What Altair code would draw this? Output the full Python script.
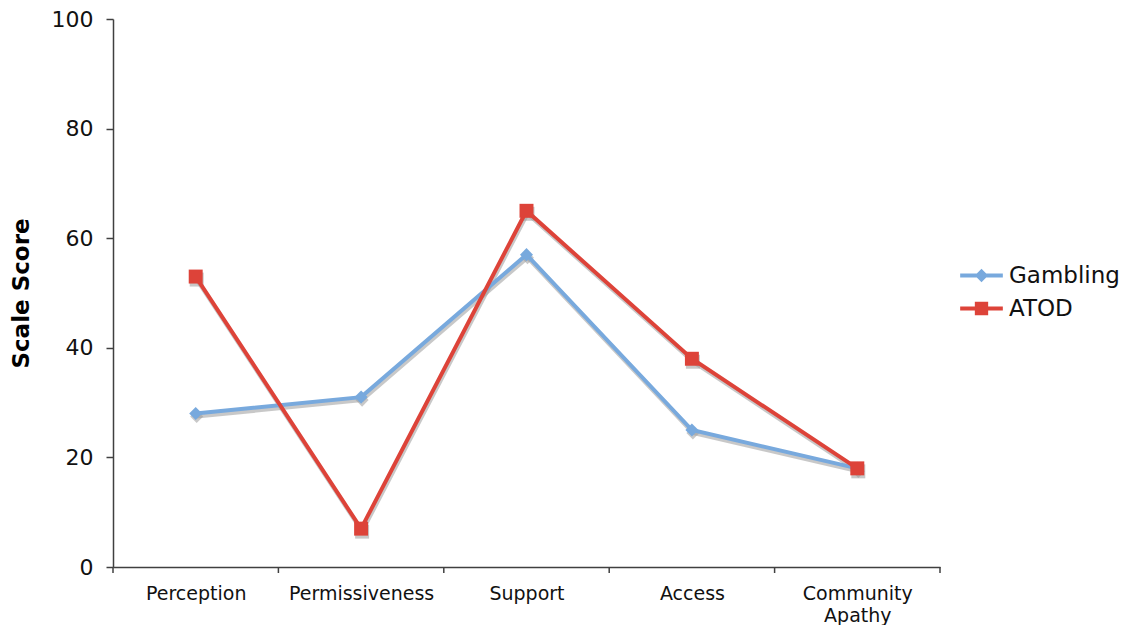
import altair as alt
import pandas as pd

categories = ["Perception", "Permissiveness", "Support", "Access", "Community Apathy"]
gambling = [28, 31, 57, 25, 18]
atod = [53, 7, 65, 38, 18]
series_names = ["Gambling", "ATOD"]
colors = ["#78A9DD", "#DD4339"]
y_ticks = [0, 20, 40, 60, 80, 100]

rows = []
for i, c in enumerate(categories):
    rows.append({"idx": i, "category": c, "series": "Gambling", "value": gambling[i]})
    rows.append({"idx": i, "category": c, "series": "ATOD", "value": atod[i]})
df = pd.DataFrame(rows)

bounds = pd.DataFrame({"b": [i - 0.5 for i in range(len(categories) + 1)]})

FONT = "DejaVu Sans"

def lab(c):
    parts = c.split(" ")
    if len(parts) > 1:
        return "[" + ",".join("'" + p + "'" for p in parts) + "]"
    return "'" + c + "'"

label_expr = "[" + ",".join(lab(c) for c in categories) + "][datum.value]"

x_scale = alt.Scale(domain=[-0.5, len(categories) - 0.5], nice=False, zero=False)
y_scale = alt.Scale(domain=[0, 100], nice=False)

x_enc = alt.X("idx:Q", scale=x_scale, axis=alt.Axis(
    values=list(range(len(categories))), labelExpr=label_expr, ticks=False,
    grid=False, title=None, labelFont=FONT, labelFontSize=19, labelColor="#111",
    labelPadding=17, labelLineHeight=22, domainColor="#404040", domainWidth=1.5,
    labelBaseline="top"))
y_enc = alt.Y("value:Q", scale=y_scale, axis=alt.Axis(
    values=y_ticks, grid=False, title="Scale Score", titleFont=FONT,
    titleFontSize=23, titleFontWeight="bold", titleColor="#000",
    titlePadding=18, labelFont=FONT, labelFontSize=22, labelColor="#111",
    labelPadding=13, tickSize=7, tickColor="#404040", tickWidth=1.5,
    domainColor="#404040", domainWidth=1.5))

path_g = "M-1.6,-0.15L1.6,-0.15L1.6,0.15L-1.6,0.15Z M0,-0.5L0.5,0L0,0.5L-0.5,0Z"
path_a = "M-1.6,-0.15L1.6,-0.15L1.6,0.15L-1.6,0.15Z M-0.5,-0.5L0.5,-0.5L0.5,0.5L-0.5,0.5Z"

color_scale = alt.Scale(domain=series_names, range=colors)

legend = alt.Legend(
    title=None, orient="none", legendX=855, legendY=243, padding=0,
    symbolSize=711, labelFont=FONT, labelFontSize=23, labelColor="#111",
    labelOffset=14, rowPadding=7, symbolOpacity=1, symbolStrokeWidth=0)

color_enc = alt.Color("series:N", scale=color_scale, sort=series_names, legend=legend)

marker_shapes = {"Gambling": ("diamond", 170), "ATOD": ("square", 195)}

layers = []
# x-axis boundary ticks
layers.append(alt.Chart(bounds).mark_rule(color="#404040", strokeWidth=1.5).encode(
    x=alt.X("b:Q", scale=x_scale), y=alt.value(548), y2=alt.value(554)))
# shadows
layers.append(alt.Chart(df).mark_line(strokeWidth=4, color="#9a9a9a", opacity=0.55,
                                      xOffset=1, yOffset=3).encode(
    x=x_enc, y=y_enc, detail="series:N", order="idx:Q"))
for s in series_names:
    shp, sz = marker_shapes[s]
    layers.append(alt.Chart(df).transform_filter(alt.datum.series == s).mark_point(
        filled=True, color="#9a9a9a", opacity=0.55, shape=shp, size=sz,
        xOffset=1, yOffset=3).encode(x=x_enc, y=y_enc))
# lines
layers.append(alt.Chart(df).mark_line(strokeWidth=4, opacity=1).encode(
    x=x_enc, y=y_enc, color=color_enc, order="idx:Q"))
# markers
for s in series_names:
    shp, sz = marker_shapes[s]
    layers.append(alt.Chart(df).transform_filter(alt.datum.series == s).mark_point(
        filled=True, opacity=1, shape=shp, size=sz).encode(
        x=x_enc, y=y_enc, color=color_enc))
# invisible layer providing the legend symbols (line + marker)
layers.append(alt.Chart(df).mark_point(filled=True, opacity=0).encode(
    x=x_enc, y=y_enc, color=color_enc,
    shape=alt.Shape("series:N", scale=alt.Scale(domain=series_names, range=[path_g, path_a]),
                    sort=series_names, legend=legend)))

chart = alt.layer(*layers).properties(
    width=827, height=548,
    autosize=alt.AutoSizeParams(type="none"),
    padding={"left": 105, "top": 11, "right": 189, "bottom": 58},
    background="white",
).configure_view(stroke=None)

chart.save("out.html", embed_options={"renderer": "svg", "actions": False})
